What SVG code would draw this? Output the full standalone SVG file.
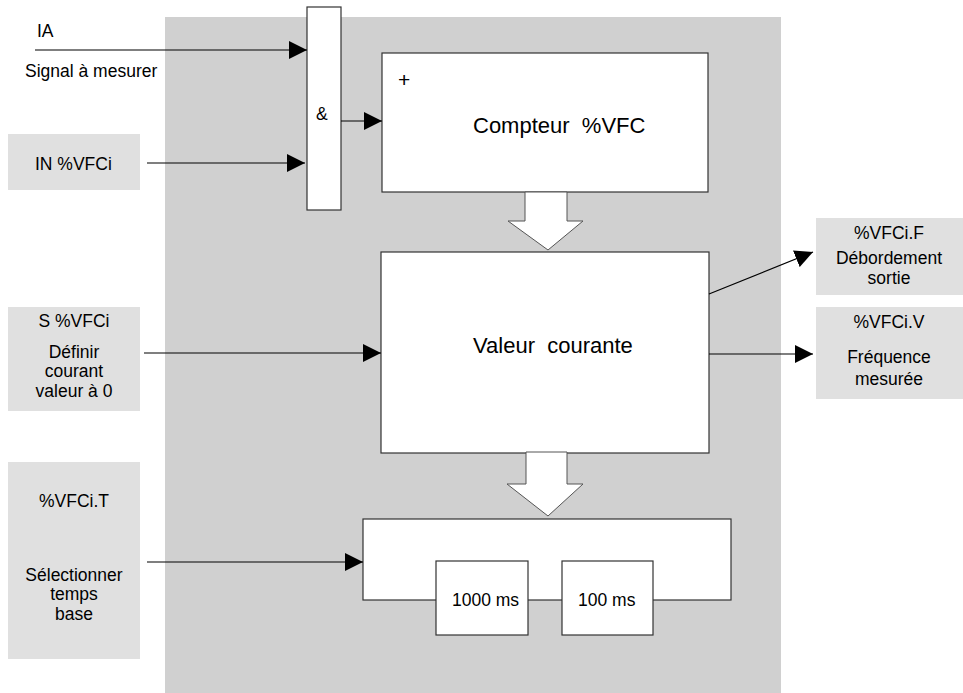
<svg xmlns="http://www.w3.org/2000/svg" width="963" height="693" viewBox="0 0 963 693">
<style>
text{font-family:"Liberation Sans",Arial,sans-serif;font-size:17.5px;fill:#000}
.big{font-size:22px}
.c{text-anchor:middle}
.box{fill:#fff;stroke:#333;stroke-width:1.2}
.lbl{fill:#e0e0e0}
.bar{fill:#fff;stroke:#555;stroke-width:1}
.ln{stroke:#000;stroke-width:1.2;fill:none;marker-end:url(#ah)}
</style>
<defs>
<marker id="ah" markerUnits="userSpaceOnUse" markerWidth="18" markerHeight="18" refX="18" refY="9" orient="auto" viewBox="0 0 18 18">
<path d="M0,0 L18,9 L0,18 z" fill="#000"/>
</marker>
</defs>
<rect x="165" y="17" width="616" height="676" fill="#d0d0d0"/>
<g id="ia-label"><text x="37" y="37">IA</text><text x="25" y="77">Signal à mesurer</text></g>
<g id="in-vfci"><rect class="lbl" x="8" y="134" width="132" height="56"/><text x="35" y="170">IN %VFCi</text></g>
<g id="s-vfci"><rect class="lbl" x="8" y="307" width="132" height="104"/>
<text class="c" x="74" y="327">S %VFCi</text><text class="c" x="74" y="358">Définir</text><text class="c" x="74" y="377">courant</text><text class="c" x="74" y="397">valeur à 0</text></g>
<g id="t-vfci"><rect class="lbl" x="8" y="462" width="132" height="197"/>
<text class="c" x="74" y="507">%VFCi.T</text><text class="c" x="74" y="581">Sélectionner</text><text class="c" x="74" y="600">temps</text><text class="c" x="74" y="620">base</text></g>
<g id="and-gate"><rect class="box" x="307" y="7" width="34" height="203"/><text x="316" y="120">&amp;</text></g>
<g id="compteur"><rect class="box" x="382" y="53" width="326" height="139"/><text x="398" y="87" style="font-size:21px">+</text><text class="big" x="473" y="133" xml:space="preserve">Compteur  %VFC</text></g>
<g id="valeur"><rect class="box" x="381" y="252" width="328" height="201"/><text class="big" x="473" y="353" xml:space="preserve">Valeur  courante</text></g>
<g id="timebase"><rect class="box" x="363" y="519" width="368" height="81"/>
<rect class="box" x="436" y="561" width="92" height="74"/><text x="452" y="606">1000 ms</text>
<rect class="box" x="562" y="561" width="91" height="74"/><text x="578" y="606">100 ms</text></g>
<g id="vfci-f"><rect class="lbl" x="816" y="218" width="147" height="77"/>
<text class="c" x="889" y="239">%VFCi.F</text><text class="c" x="889" y="264">Débordement</text><text class="c" x="889" y="284">sortie</text></g>
<g id="vfci-v"><rect class="lbl" x="816" y="307" width="147" height="92"/>
<text class="c" x="889" y="328">%VFCi.V</text><text class="c" x="889" y="363">Fréquence</text><text class="c" x="889" y="385">mesurée</text></g>
<g id="connectors">
<line class="ln" x1="35" y1="50" x2="307" y2="50"/>
<line class="ln" x1="147" y1="163" x2="305" y2="163"/>
<line class="ln" x1="341" y1="121" x2="382" y2="121"/>
<line class="ln" x1="144" y1="353" x2="381" y2="353"/>
<line class="ln" x1="147" y1="562" x2="363" y2="562"/>
<line class="ln" x1="709" y1="294" x2="813" y2="252"/>
<line class="ln" x1="709" y1="354" x2="813" y2="354"/>
<polygon class="bar" points="525,192 567,192 567,221 583,221 548,250 508,221 525,221"/>
<polygon class="bar" points="526,452 567,452 567,484 583,484 548,516 507,484 526,484"/>
</g>
</svg>
